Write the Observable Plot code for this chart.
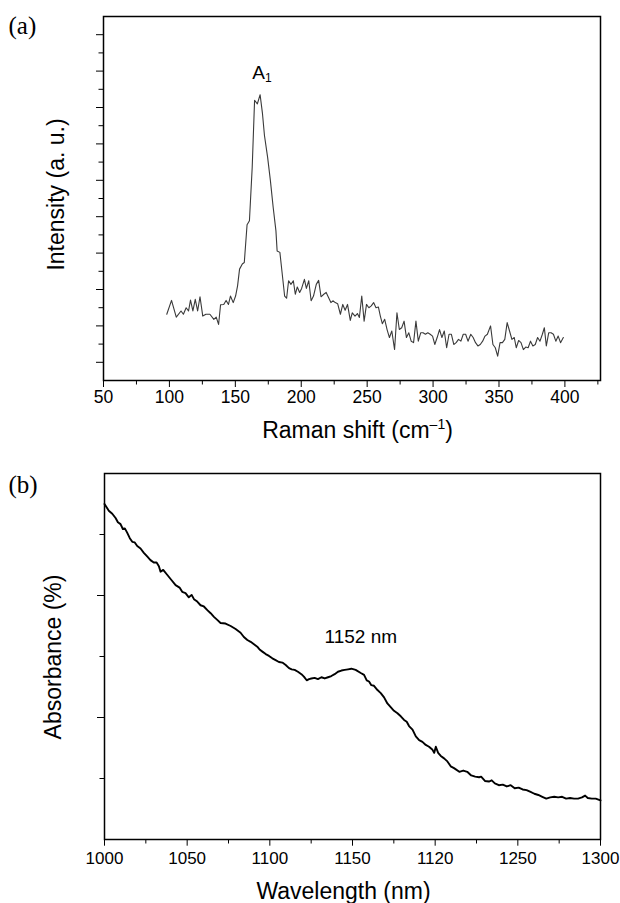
<!DOCTYPE html>
<html>
<head>
<meta charset="utf-8">
<script src="https://cdn.jsdelivr.net/npm/d3@7"></script>
<script src="https://cdn.jsdelivr.net/npm/@observablehq/plot@0.6"></script>
<style>
  body { margin: 0; background: #fff; }
  #chart { width: 620px; }
  #chart svg { display: block; }
</style>
</head>
<body>
<div id="chart"></div>
<script>
// ---------- Panel (a): Raman spectrum ----------
const ramanShift = [98.0,101.6,105.2,108.8,110.6,112.7,114.5,116.0,117.8,119.6,
  121.4,123.2,125.3,127.7,130.7,133.7,135.5,137.3,138.8,141.2,
  143.0,144.8,146.3,148.4,150.2,151.7,153.2,155.3,156.8,158.9,
  160.7,162.8,164.6,166.7,168.8,170.6,172.1,174.5,176.6,178.7,
  180.8,181.7,183.8,185.6,187.4,188.9,190.4,192.2,194.0,195.5,
  197.0,198.8,200.3,202.4,203.9,205.7,207.5,209.3,211.4,213.2,
  215.0,217.1,218.9,220.7,222.5,224.0,225.8,227.6,229.7,231.5,
  233.3,235.1,237.2,238.7,240.8,242.6,244.1,245.9,247.7,249.5,
  251.3,253.1,254.9,256.7,258.5,260.0,261.5,263.3,265.1,266.9,
  268.7,270.8,272.6,274.4,276.2,278.0,279.8,281.6,283.4,285.2,
  287.0,288.8,290.6,292.4,294.2,296.0,297.8,299.6,301.3,303.1,
  304.9,306.7,308.5,310.3,312.1,313.9,315.7,317.5,319.3,321.1,
  322.9,324.7,326.5,328.6,330.4,332.2,334.0,335.8,337.6,339.4,
  341.2,343.6,345.4,347.2,349.0,350.8,352.6,354.4,356.2,358.0,
  359.8,361.6,363.1,364.9,366.7,368.5,370.3,372.1,373.9,375.7,
  377.5,379.3,381.1,382.9,384.4,385.9,387.7,389.5,391.3,393.1,
  394.9,396.7,398.8];
const ramanIntensity = [1.82,2.20,1.74,1.91,1.82,2.00,1.91,2.21,1.91,2.23,
  1.91,2.30,1.77,1.82,1.82,1.68,1.74,1.54,2.08,2.09,
  2.20,2.09,2.32,2.14,2.32,2.60,3.06,3.20,3.24,4.28,
  4.39,5.86,7.70,7.60,7.85,7.33,6.73,6.13,5.49,4.76,
  4.11,3.56,3.52,2.92,2.32,2.26,2.74,2.64,2.74,2.37,
  2.57,2.42,2.53,2.78,2.53,2.74,2.19,2.32,2.64,2.75,
  2.30,2.37,2.42,2.28,2.14,2.19,2.14,2.11,1.82,2.09,
  1.93,2.09,1.65,1.86,1.77,1.84,1.73,2.32,1.63,2.09,
  2.00,2.05,2.14,2.00,2.02,1.77,1.56,1.68,1.40,1.18,
  1.36,0.85,1.86,1.40,1.45,1.63,1.18,1.31,1.08,1.04,
  1.63,1.08,1.31,1.31,1.27,1.31,1.27,1.22,0.99,1.18,
  1.40,1.18,1.36,0.90,1.27,1.27,0.99,1.04,1.13,1.08,
  1.27,1.27,1.08,1.27,1.18,1.04,0.95,0.99,1.08,1.22,
  1.27,1.50,0.99,0.90,0.67,1.04,1.04,1.13,1.59,1.36,
  1.13,1.18,0.90,1.10,1.04,0.85,0.92,0.90,1.08,0.95,
  0.99,1.18,1.08,1.27,1.45,0.95,1.31,1.31,1.27,1.08,
  1.22,1.04,1.18];
const ramanTicks = [50,100,150,200,250,300,350,400];
const ramanMinorTicks = [75,125,175,225,275,325,375,425];
const intensityMajorTicks = [0.5,1.5,2.5,3.5,4.5,5.5,6.5,7.5,8.5,9.5];
const intensityMinorTicks = [1,2,3,4,5,6,7,8,9];
const ramanNotes = [{x: 162.8, y: 8.28, label: "A1"}];

// ---------- Panel (b): absorbance spectrum ----------
const wavelength = [1000.0,1002.6,1004.7,1006.7,1008.1,1009.7,1011.1,1012.3,1013.7,1015.3,
  1016.8,1018.3,1019.8,1021.8,1023.8,1025.8,1027.8,1029.8,1031.5,1032.9,
  1033.9,1035.5,1037.9,1040.6,1043.0,1045.4,1047.0,1049.0,1051.0,1052.7,
  1054.1,1056.1,1058.1,1060.1,1062.2,1064.2,1066.2,1068.2,1070.2,1073.2,
  1076.3,1079.3,1082.3,1084.3,1086.4,1088.4,1090.4,1092.4,1094.0,1095.5,
  1097.5,1099.5,1101.5,1103.5,1105.5,1107.6,1109.6,1111.6,1113.2,1115.0,
  1117.0,1119.1,1120.6,1122.3,1123.7,1125.1,1127.1,1129.1,1131.2,1133.2,
  1135.2,1137.2,1139.2,1141.2,1143.3,1145.3,1147.3,1149.3,1151.9,1155.0,
  1157.0,1158.6,1160.0,1161.4,1163.0,1165.1,1167.1,1169.1,1171.1,1173.1,
  1175.1,1177.2,1179.2,1181.2,1182.8,1184.2,1186.3,1188.3,1190.3,1192.3,
  1194.3,1196.3,1198.4,1199.4,1200.4,1201.8,1203.4,1205.4,1207.4,1209.4,
  1211.4,1214.6,1217.0,1219.4,1221.8,1224.2,1226.6,1227.8,1230.1,1232.5,
  1234.2,1236.1,1238.5,1240.9,1243.3,1245.7,1248.1,1250.5,1252.9,1255.3,
  1257.7,1260.0,1262.4,1264.8,1267.2,1269.6,1272.0,1274.4,1276.8,1279.2,
  1281.6,1284.0,1286.4,1288.8,1290.7,1292.3,1294.7,1297.1,1300.0];
const absorbance = [5.50,5.39,5.34,5.27,5.20,5.17,5.09,5.10,5.03,4.94,
  4.88,4.87,4.81,4.77,4.70,4.64,4.58,4.54,4.54,4.48,
  4.39,4.42,4.34,4.25,4.17,4.13,4.06,4.04,3.97,4.01,
  3.94,3.90,3.84,3.82,3.76,3.71,3.65,3.60,3.55,3.54,
  3.50,3.45,3.39,3.32,3.27,3.24,3.20,3.16,3.11,3.08,
  3.04,3.01,2.97,2.94,2.91,2.90,2.86,2.81,2.79,2.78,
  2.75,2.71,2.67,2.61,2.63,2.64,2.65,2.63,2.66,2.64,
  2.66,2.68,2.71,2.75,2.77,2.78,2.79,2.80,2.78,2.73,
  2.70,2.61,2.59,2.53,2.52,2.45,2.40,2.33,2.23,2.17,
  2.11,2.07,2.02,1.96,1.93,1.86,1.80,1.69,1.63,1.60,
  1.55,1.52,1.47,1.42,1.52,1.42,1.37,1.33,1.28,1.20,
  1.17,1.11,1.13,1.11,1.05,1.03,1.02,1.03,0.96,0.95,
  0.97,0.92,0.89,0.90,0.87,0.89,0.84,0.85,0.82,0.81,
  0.78,0.75,0.73,0.70,0.67,0.69,0.70,0.69,0.70,0.67,
  0.68,0.67,0.67,0.69,0.72,0.68,0.67,0.67,0.64];
const wavelengthTicks = [1000,1050,1100,1150,1200,1250,1300];
const wavelengthTickLabels = ["1000","1050","1100","1150","1120","1250","1300"];
const wavelengthMinorTicks = [1025,1075,1125,1175,1225,1275];
const absorbanceMajorTicks = [2,4];
const absorbanceMinorTicks = [1,3,5];
const absorbanceNotes = [{x: 1155, y: 3.32, label: "1152 nm"}];

const sans = "'Liberation Sans', Arial, Helvetica, sans-serif";
const serif = "'Liberation Serif', 'Times New Roman', serif";
const blank = () => "";

const ramanData = ramanShift.map((x, i) => ({x, y: ramanIntensity[i]}));
const absData = wavelength.map((x, i) => ({x, y: absorbance[i]}));

const plotA = Plot.plot({
  width: 620, height: 445,
  marginTop: 16, marginBottom: 65, marginLeft: 103, marginRight: 20,
  x: {domain: [50, 427], label: null},
  y: {domain: [0, 10], label: null},
  style: {fontFamily: sans, color: "black", background: "white", overflow: "visible"},
  marks: [
    Plot.axisX(ramanTicks, {tickSize: 7, tickPadding: 3.5, fontSize: 17.5, label: null, tickFormat: d => String(d)}),
    Plot.axisX(ramanMinorTicks, {tickSize: 4.5, label: null, tickFormat: blank}),
    Plot.axisY(intensityMajorTicks, {tickSize: 7, label: null, tickFormat: blank}),
    Plot.axisY(intensityMinorTicks, {tickSize: 4.5, label: null, tickFormat: blank}),
    Plot.line(ramanData, {x: "x", y: "y", stroke: "#3a3a3a", strokeWidth: 1.1}),
    Plot.frame({stroke: "black", strokeWidth: 1.5}),
    Plot.text(ramanNotes, {x: "x", y: "y", text: "label", textAnchor: "start", lineAnchor: "bottom", fontSize: 19}),
    Plot.text(["(a)"], {text: d => d, frameAnchor: "top-left", dx: -95, dy: 17, lineAnchor: "bottom", textAnchor: "start", fontFamily: serif, fontSize: 25}),
    Plot.text(["Intensity (a. u.)"], {text: d => d, frameAnchor: "left", textAnchor: "middle", lineAnchor: "middle", rotate: -90, dx: -46.7, dy: -4, fontSize: 23}),
    Plot.text(["Raman shift (cm–1)"], {text: d => d, frameAnchor: "bottom", textAnchor: "middle", dx: 5.5, dy: 57, lineAnchor: "bottom", fontSize: 23})
  ]
});

const plotB = Plot.plot({
  width: 620, height: 458,
  marginTop: 28, marginBottom: 64, marginLeft: 104, marginRight: 20,
  x: {domain: [1000, 1300], label: null},
  y: {domain: [0, 6], label: null},
  style: {fontFamily: sans, color: "black", background: "white", overflow: "visible"},
  marks: [
    Plot.axisX(wavelengthTicks, {tickSize: 6.7, tickPadding: 5.5, fontSize: 17, label: null,
      tickFormat: d => wavelengthTickLabels[wavelengthTicks.indexOf(d)]}),
    Plot.axisX(wavelengthMinorTicks, {tickSize: 4.5, label: null, tickFormat: blank}),
    Plot.axisY(absorbanceMajorTicks, {tickSize: 7, label: null, tickFormat: blank}),
    Plot.axisY(absorbanceMinorTicks, {tickSize: 4.5, label: null, tickFormat: blank}),
    Plot.line(absData, {x: "x", y: "y", stroke: "black", strokeWidth: 1.9}),
    Plot.frame({stroke: "black", strokeWidth: 1.5}),
    Plot.text(absorbanceNotes, {x: "x", y: "y", text: "label", fontSize: 19}),
    Plot.text(["(b)"], {text: d => d, frameAnchor: "top-left", dx: -96, dy: 19, lineAnchor: "bottom", textAnchor: "start", fontFamily: serif, fontSize: 25}),
    Plot.text(["Absorbance (%)"], {text: d => d, frameAnchor: "left", textAnchor: "middle", lineAnchor: "middle", rotate: -90, dx: -50.6, dy: 0.5, fontSize: 23}),
    Plot.text(["Wavelength (nm)"], {text: d => d, frameAnchor: "bottom", textAnchor: "middle", dx: -9, dy: 59, lineAnchor: "bottom", fontSize: 23})
  ]
});

// sub/superscripts
d3.select(plotA).selectAll("text").each(function () {
  const t = d3.select(this);
  const s = t.text();
  if (s === "A1") {
    t.text("A");
    t.append("tspan").attr("font-size", 12).attr("dy", 3).text("1");
  } else if (s === "Raman shift (cm–1)") {
    t.text("Raman shift (cm");
    t.append("tspan").attr("font-size", 14).attr("dy", -9).text("–1");
    t.append("tspan").attr("dy", 9).text(")");
  }
});

const chart = document.getElementById("chart");
chart.append(plotA);
chart.append(plotB);
</script>
</body>
</html>
